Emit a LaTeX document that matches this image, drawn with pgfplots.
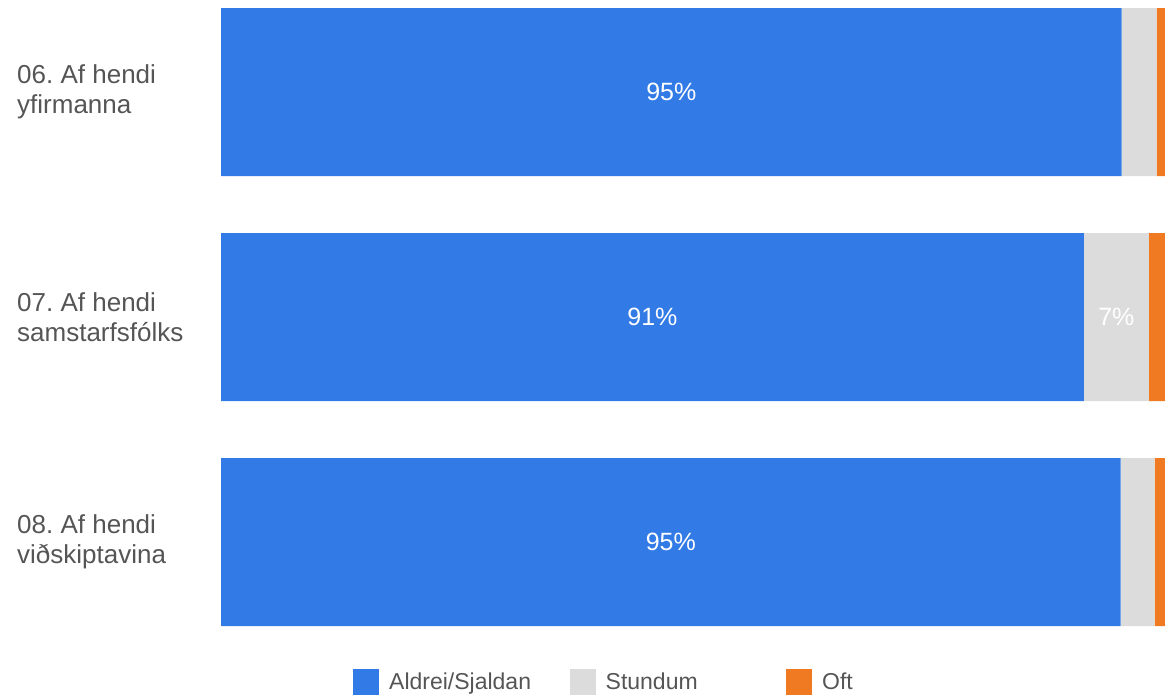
\documentclass[border=0pt]{standalone}
\usepackage{pgfplots}
\pgfplotsset{compat=1.18}
\usepackage{fontspec}
\setmainfont{Liberation Sans}
\frenchspacing
\definecolor{cblue}{HTML}{327BE6}
\definecolor{cgray}{HTML}{DCDCDC}
\definecolor{corange}{HTML}{F07A22}
\definecolor{ctext}{HTML}{555555}
\pgfplotsset{
	sqlegend/.style={legend image code/.code={\fill[##1] (0pt,-13pt) rectangle (26pt,13pt);}},
	% stacked bars put the node near coord in the middle of the segment already
	pctlabel/.style={every node near coord/.style={anchor=center,
			text=white, font=\fontsize{25}{30}\selectfont}},
}

\begin{document}
\begin{tikzpicture}
\path[use as bounding box] (0pt,0pt) rectangle (1165pt,-699pt);
\begin{axis}[
	at={(221pt,0pt)}, anchor=north west,
	scale only axis,
	width=944pt, height=640pt,
	xbar stacked,
	bar width=168pt,
	xmin=0, xmax=100,
	ymin=-0.4089, ymax=2.4356,
	y dir=reverse,
	enlargelimits=false,
	axis line style={draw=none},
	tick style={draw=none},
	major tick length=0pt,
	xtick=\empty,
	ytick={0,1,2},
	yticklabels={{06. Af hendi\\yfirmanna},{07. Af hendi\\samstarfsfólks},{08. Af hendi\\viðskiptavina}},
	yticklabel style={anchor=west, xshift=-204pt, align=left, inner sep=0pt,
		font=\fontsize{26}{30}\selectfont, text=ctext},
	legend style={at={(0.1398,-0.0656)}, anchor=west, draw=none, fill=none,
		inner sep=0pt, legend columns=3,
		font=\fontsize{23}{28}\selectfont, text=ctext,
		/tikz/every odd column/.style={column sep=8pt},
		/tikz/every even column/.style={column sep=0pt}},
	legend cell align=left,
]

\addplot+[fill=cblue, draw=none, sqlegend, pctlabel,
	point meta=explicit symbolic, nodes near coords={\pgfplotspointmeta\%},
] table[col sep=comma, x=v, y=y, meta=lab] {
y,v,lab
0,95.4,95
1,91.4,91
2,95.3,95
};
\addlegendentry{\makebox[178.5pt][l]{Aldrei/Sjaldan}}

\addplot+[fill=cgray, draw=none, sqlegend, pctlabel,
	point meta=explicit symbolic, nodes near coords,
] table[col sep=comma, x=v, y=y, meta=lab] {
y,v,lab
0,3.7,
1,6.9,7\%
2,3.6,
};
\addlegendentry{\makebox[178.5pt][l]{Stundum}}

\addplot+[fill=corange, draw=none, sqlegend,
] table[col sep=comma, x=v, y=y] {
y,v
0,0.9
1,1.7
2,1.1
};
\addlegendentry{Oft}

\end{axis}
\end{tikzpicture}
\end{document}
